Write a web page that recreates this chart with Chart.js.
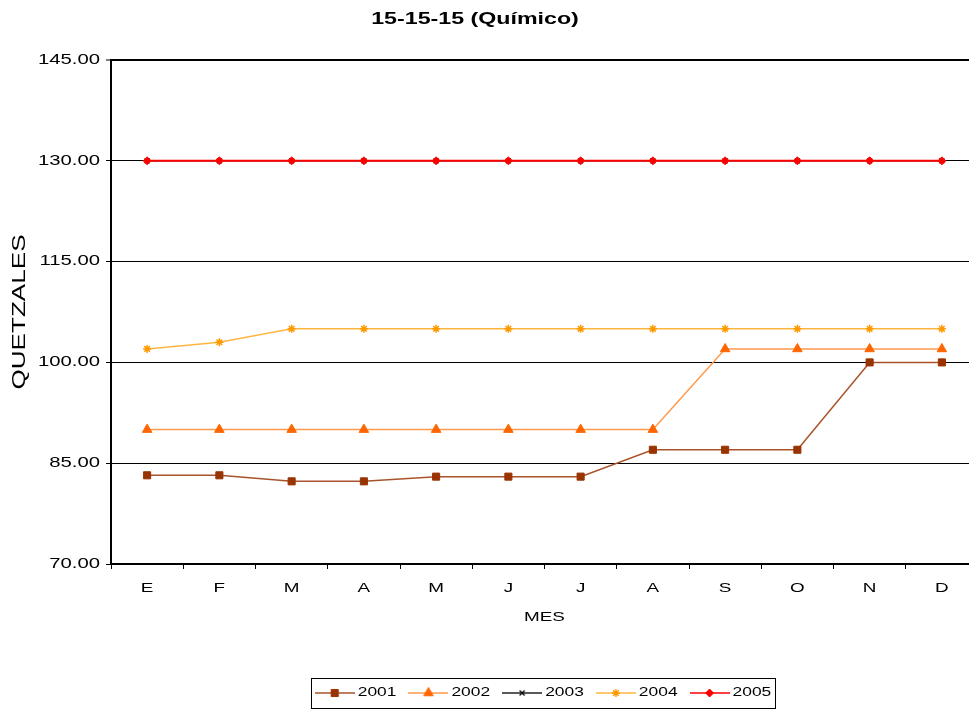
<!DOCTYPE html>
<html>
<head>
<meta charset="utf-8">
<script src="https://cdn.jsdelivr.net/npm/chart.js@4/dist/chart.umd.min.js"></script>
<style>
  html, body { margin: 0; padding: 0; background: #fff; overflow: hidden; width: 969px; height: 709px; }
  canvas { display: block; }
</style>
</head>
<body>
<canvas id="c" width="1000" height="709"></canvas>
<script>
// Monthly prices (quetzales) of 15-15-15 chemical fertiliser, one series per year
const chartTitle = '15-15-15 (Químico)';
const months = ['E', 'F', 'M', 'A', 'M', 'J', 'J', 'A', 'S', 'O', 'N', 'D'];
const years = ['2001', '2002', '2003', '2004', '2005'];
const p2001 = [83.2, 83.2, 82.3, 82.3, 83, 83, 83, 87, 87, 87, 100, 100];
const p2002 = [90, 90, 90, 90, 90, 90, 90, 90, 102, 102, 102, 102];
const p2003 = [130, 130, 130, 130, 130, 130, 130, 130, 130, 130, 130, 130];
const p2004 = [102, 103, 105, 105, 105, 105, 105, 105, 105, 105, 105, 105];
const p2005 = [130, 130, 130, 130, 130, 130, 130, 130, 130, 130, 130, 130];
const yTicks = [70, 85, 100, 115, 130, 145];

const series = [p2001, p2002, p2003, p2004, p2005];
const lineColors = ['#A9532B', '#FF9A4D', '#222222', '#FFB640', '#FF0000'];
const markerColors = ['#993300', '#FF6600', '#000000', '#FF9900', '#FF0000'];
const markerStyles = ['rect', 'triangle', 'crossRot', 'star', 'rectRot'];
const markerRadius = [5, 5.5, 3.5, 4, 4];
const markerBorder = [1, 1, 1.2, 1.5, 1];
const drawOrder = [1, 1, 2, 1, 0];

const FONT = '"Liberation Sans", Arial, sans-serif';
const SX = 1.45; // horizontal widening of all glyphs

const canvas = document.getElementById('c');
const ctx = canvas.getContext('2d');
const nativeFill = CanvasRenderingContext2D.prototype.fillText;
const nativeMeasure = CanvasRenderingContext2D.prototype.measureText;
ctx.fillText = function (text, x, y, maxWidth) {
  this.save();
  this.translate(x, y);
  this.scale(SX, 1);
  if (maxWidth === undefined || maxWidth === null) nativeFill.call(this, text, 0, 0);
  else nativeFill.call(this, text, 0, 0, maxWidth / SX);
  this.restore();
};
ctx.measureText = function (text) {
  const m = nativeMeasure.call(this, text);
  return {
    width: m.width * SX,
    actualBoundingBoxAscent: m.actualBoundingBoxAscent,
    actualBoundingBoxDescent: m.actualBoundingBoxDescent,
    actualBoundingBoxLeft: m.actualBoundingBoxLeft * SX,
    actualBoundingBoxRight: m.actualBoundingBoxRight * SX
  };
};

// Legend symbol: short line with the series marker in the middle
function legendSymbol(i) {
  const c = document.createElement('canvas');
  c.width = 40; c.height = 12;
  const g = c.getContext('2d');
  g.strokeStyle = lineColors[i];
  g.lineWidth = 1.5;
  g.beginPath(); g.moveTo(0, 6); g.lineTo(40, 6); g.stroke();
  g.fillStyle = markerColors[i];
  g.strokeStyle = markerColors[i];
  g.lineWidth = markerBorder[i];
  Chart.helpers.drawPoint(g, { pointStyle: markerStyles[i], radius: markerRadius[i], rotation: 0, borderWidth: markerBorder[i] }, 20, 6);
  return c;
}
const symbols = years.map((y, i) => legendSymbol(i));

const titlePlugin = {
  id: 'chartTitle',
  afterDraw(chart) {
    const c = chart.ctx;
    c.save();
    c.font = 'bold 16px ' + FONT;
    c.fillStyle = '#000';
    c.textAlign = 'center';
    c.textBaseline = 'middle';
    c.fillText(chartTitle, 475, 20);
    c.restore();
  }
};

const legendFrame = {
  id: 'legendFrame',
  afterDraw(chart) {
    const hb = chart.legend && chart.legend.legendHitBoxes;
    if (!hb || !hb.length) return;
    const first = hb[0], last = hb[hb.length - 1];
    const left = first.left - 7;
    const right = last.left + last.width + 3;
    const top = first.top - 9;
    const bottom = first.top + first.height + 9;
    const c = chart.ctx;
    c.save();
    c.strokeStyle = '#000';
    c.lineWidth = 1;
    c.strokeRect(Math.round(left) + 0.5, Math.round(top) + 0.5, Math.round(right - left), Math.round(bottom - top));
    c.restore();
  }
};

Chart.defaults.color = '#000';
Chart.defaults.font.family = FONT;

new Chart(ctx, {
  type: 'line',
  data: {
    labels: months,
    datasets: years.map((y, i) => ({
      label: y,
      data: series[i],
      order: drawOrder[i],
      borderColor: lineColors[i],
      backgroundColor: markerColors[i],
      borderWidth: i === 4 ? 2 : 1.5,
      pointStyle: markerStyles[i],
      pointRadius: markerRadius[i],
      pointBackgroundColor: markerColors[i],
      pointBorderColor: markerColors[i],
      pointBorderWidth: markerBorder[i],
      tension: 0,
      fill: false
    }))
  },
  options: {
    responsive: false,
    animation: false,
    devicePixelRatio: 1,
    events: [],
    layout: { padding: { top: 60, right: 22, bottom: 0, left: 0 } },
    scales: {
      x: {
        type: 'category',
        offset: true,
        afterFit(scale) { scale.height = 108; },
        grid: { display: true, drawOnChartArea: false, drawTicks: true, tickLength: 5, offset: true, color: '#000', lineWidth: 1 },
        border: { display: true, color: '#000', width: 2 },
        ticks: { font: { size: 13 }, padding: 12, color: '#000', maxRotation: 0, autoSkip: false },
        title: { display: true, text: 'MES', font: { size: 13 }, color: '#000', padding: { top: 0, bottom: 47 } }
      },
      y: {
        min: yTicks[0],
        max: yTicks[yTicks.length - 1],
        afterFit(scale) { scale.width = 111; },
        afterBuildTicks(scale) { scale.ticks = yTicks.map(v => ({ value: v })); },
        grid: {
          color: '#000',
          lineWidth: (c) => (c.tick && c.tick.value === 145 ? 2 : 1),
          tickLength: 5,
          tickColor: '#000',
          tickWidth: 1
        },
        border: { display: true, color: '#000', width: 2 },
        ticks: { font: { size: 14 }, padding: 6, color: '#000', callback: (v) => Number(v).toFixed(2) },
        title: { display: true, text: 'QUETZALES', font: { size: 18 }, color: '#000', padding: { top: 9, bottom: 0 } }
      }
    },
    plugins: {
      title: { display: false },
      tooltip: { enabled: false },
      legend: {
        display: true,
        position: 'bottom',
        fullSize: false,
        labels: {
          usePointStyle: true,
          pointStyleWidth: 34,
          boxHeight: 12,
          padding: 15,
          color: '#000',
          font: { size: 12 },
          generateLabels() {
            return years.map((y, i) => ({
              text: y,
              datasetIndex: i,
              pointStyle: symbols[i],
              fillStyle: markerColors[i],
              strokeStyle: markerColors[i],
              lineWidth: 0,
              hidden: false
            }));
          }
        }
      }
    }
  },
  plugins: [titlePlugin, legendFrame]
});
</script>
</body>
</html>
